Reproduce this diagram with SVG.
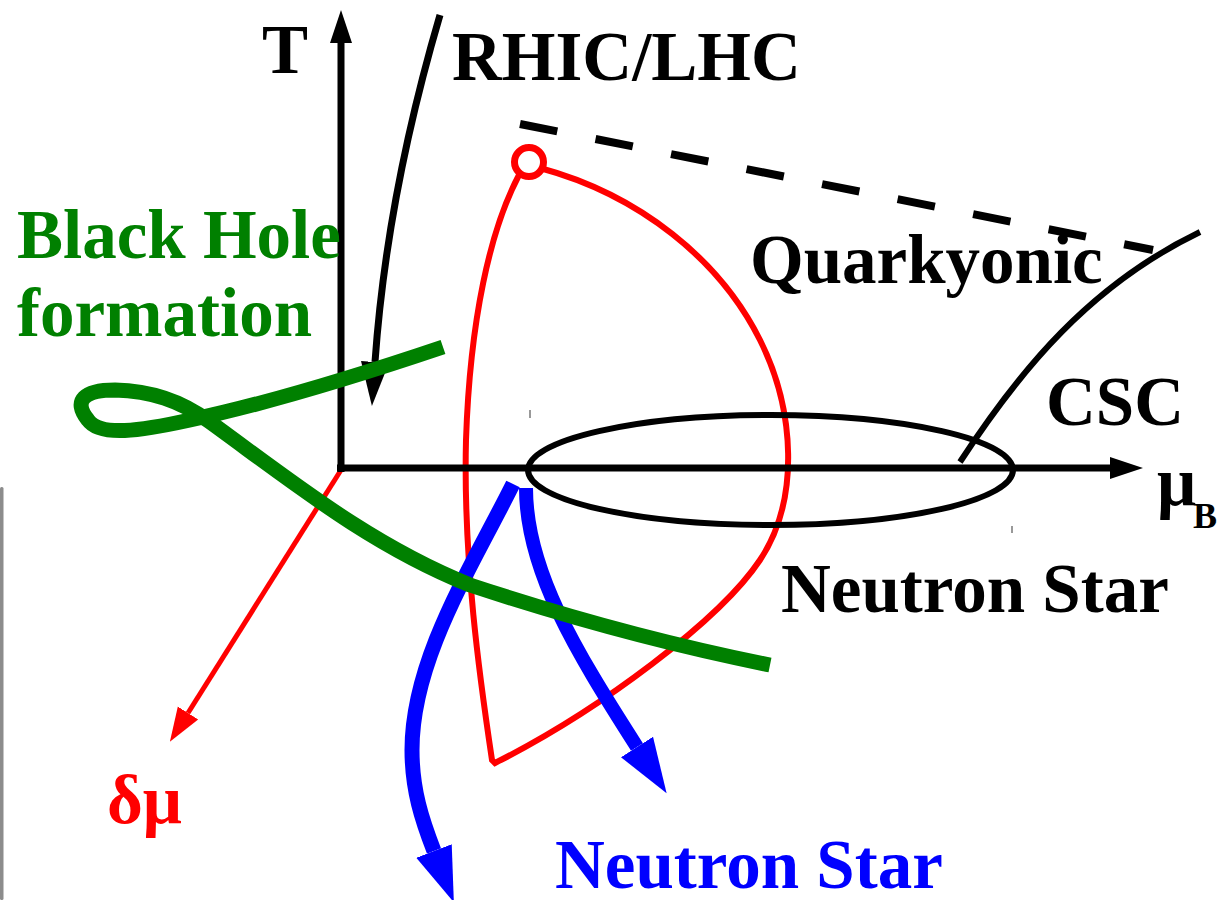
<svg xmlns="http://www.w3.org/2000/svg" width="1226" height="900" viewBox="0 0 1226 900">
<style>
  text { font-family: "Liberation Serif", "Times New Roman", serif; font-weight: bold; font-size: 69px; }
  .blk { fill: #000; }
  .grn { fill: #008000; }
  .red { fill: #ff0000; }
  .blu { fill: #0000ff; }
  .ln { fill: none; stroke-linecap: butt; stroke-linejoin: miter; }
</style>
<defs>
  <marker id="mAxis" markerUnits="userSpaceOnUse" markerWidth="40" markerHeight="30" viewBox="0 -15 40 30" refX="0" refY="0" orient="auto">
    <path d="M0,-11 L33,0 L0,11 z" fill="#000"/>
  </marker>
  <marker id="mRhic" markerUnits="userSpaceOnUse" markerWidth="50" markerHeight="34" viewBox="0 -17 50 34" refX="0" refY="0" orient="auto">
    <path d="M0,-14 L44,0 L0,14 z" fill="#000"/>
  </marker>
  <marker id="mRed" markerUnits="userSpaceOnUse" markerWidth="40" markerHeight="30" viewBox="0 -15 40 30" refX="0" refY="0" orient="auto">
    <path d="M0,-12 L34,0 L0,12 z" fill="#ff0000"/>
  </marker>
  <marker id="mBlue" markerUnits="userSpaceOnUse" markerWidth="60" markerHeight="44" viewBox="0 -22 60 44" refX="0" refY="0" orient="auto">
    <path d="M0,-19 L55,0 L0,19 z" fill="#0000ff"/>
  </marker>
</defs>
<rect width="1226" height="900" fill="#fff"/>
<rect x="0" y="487" width="3.5" height="413" rx="1.5" fill="#8c8c8c"/>
<line x1="530" y1="410" x2="530" y2="418" stroke="#999" stroke-width="2"/>
<line x1="1012" y1="526" x2="1012" y2="533" stroke="#999" stroke-width="2"/>

<g id="connectors">
  <path id="red-boundary" class="ln" stroke="#ff0000" stroke-width="6" d="M519,175 C490,230 470,320 466,440 C463,560 480,680 492,760 L495,763 C600,710 720,620 760,560 C800,500 795,410 760,340 C720,260 640,195 540,168"/>
  <circle id="critical-point" cx="529" cy="162" r="14.5" fill="none" stroke="#ff0000" stroke-width="7"/>
  <path id="dmu-axis" class="ln" stroke="#ff0000" stroke-width="5" d="M341,470 L188,713" marker-end="url(#mRed)"/>
  <path id="T-axis" class="ln" stroke="#000" stroke-width="7" d="M341,472 L341,43" marker-end="url(#mAxis)"/>
  <path id="muB-axis" class="ln" stroke="#000" stroke-width="7" d="M337,468 L1110,468" marker-end="url(#mAxis)"/>
  <path id="rhic-arrow" class="ln" stroke="#000" stroke-width="7" d="M440,15 C415,100 385,220 375,362" marker-end="url(#mRhic)"/>
  <path id="dashed" class="ln" stroke="#000" stroke-width="8" stroke-dasharray="38 39" d="M520,124 L1153,250"/>
  <path id="csc-boundary" class="ln" stroke="#000" stroke-width="6" d="M960,462 C1020,370 1090,285 1200,232"/>
  <ellipse id="ns-ellipse" cx="770.5" cy="470" rx="242.5" ry="55" fill="none" stroke="#000" stroke-width="6"/>
  <path id="blue-arrow-1" class="ln" stroke="#0000ff" stroke-width="15" d="M513,484 C470,570 412,660 412,750 C412,790 422,820 434,851" marker-end="url(#mBlue)"/>
  <path id="blue-arrow-2" class="ln" stroke="#0000ff" stroke-width="14" d="M526,488 C526,570 575,650 637,747" marker-end="url(#mBlue)"/>
  <path id="green-curve" class="ln" stroke="#008000" stroke-width="15" d="M443,347 C360,375 260,405 190,420 C140,431 100,437 88,420 C72,400 85,390 115,390 C150,391 180,400 210,422 C290,480 370,545 470,585 C570,618 670,645 770,665"/>
</g>

<g id="label-T"><text class="blk" x="262" y="73">T</text></g>
<g id="label-rhic"><text class="blk" x="452" y="80">RHIC/LHC</text></g>
<g id="label-bh">
  <text class="grn" x="17" y="258">Black Hole</text>
  <text class="grn" x="17" y="336">formation</text>
</g>
<g id="label-quarkyonic"><text class="blk" x="750" y="283">Quarkyonic</text></g>
<g id="label-csc"><text class="blk" x="1046" y="425">CSC</text></g>
<g id="label-muB"><text class="blk" x="1157" y="505">μ<tspan font-size="36" x="1193" y="528">B</tspan></text></g>
<g id="label-ns-black"><text class="blk" x="781" y="612">Neutron Star</text></g>
<g id="label-dmu"><text class="red" x="107" y="823">δμ</text></g>
<g id="label-ns-blue"><text class="blu" x="555" y="888">Neutron Star</text></g>
</svg>
